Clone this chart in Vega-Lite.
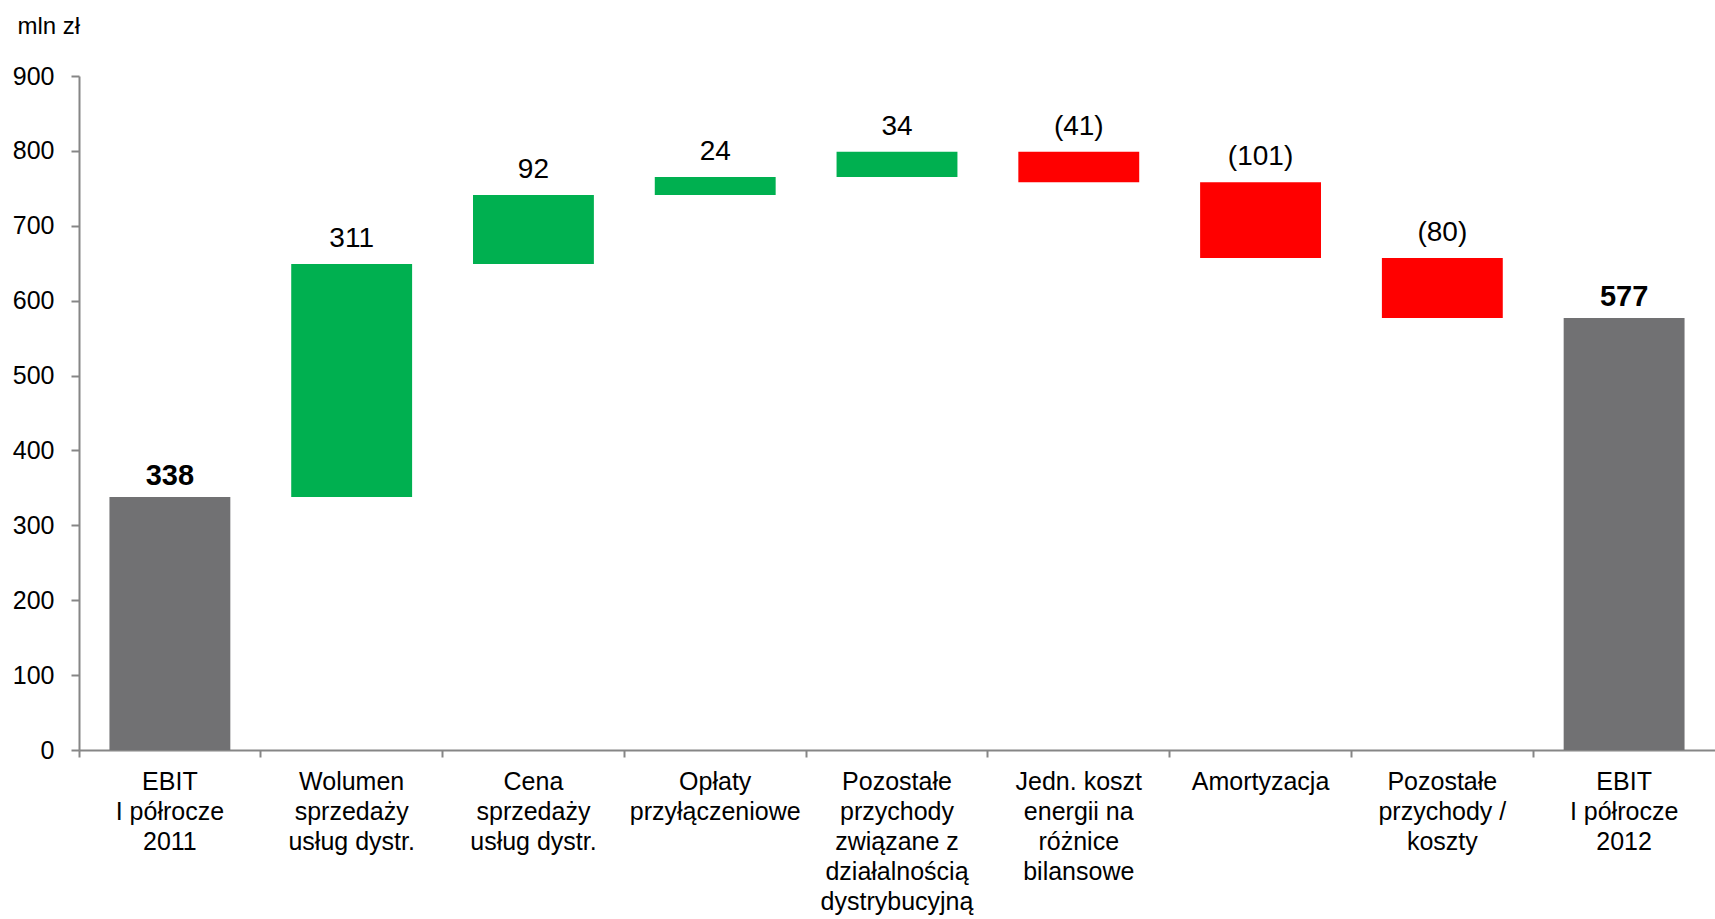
{
  "$schema": "https://vega.github.io/schema/vega-lite/v6.json",
  "autosize": {"type": "none"},
  "width": 1636,
  "height": 674,
  "padding": {"left": 79, "top": 76, "right": 0, "bottom": 169},
  "background": "white",
  "config": {
    "font": "Liberation Sans",
    "view": {"stroke": null}
  },
  "data": {
    "values": [
      {"category": "EBIT|I półrocze|2011", "low": 0, "high": 338, "label": "338", "type": "total"},
      {"category": "Wolumen|sprzedaży|usług dystr.", "low": 338, "high": 649, "label": "311", "type": "increase"},
      {"category": "Cena|sprzedaży|usług dystr.", "low": 649, "high": 741, "label": "92", "type": "increase"},
      {"category": "Opłaty|przyłączeniowe", "low": 741, "high": 765, "label": "24", "type": "increase"},
      {"category": "Pozostałe|przychody|związane z|działalnością|dystrybucyjną", "low": 765, "high": 799, "label": "34", "type": "increase"},
      {"category": "Jedn. koszt|energii na|różnice|bilansowe", "low": 758, "high": 799, "label": "(41)", "type": "decrease"},
      {"category": "Amortyzacja", "low": 657, "high": 758, "label": "(101)", "type": "decrease"},
      {"category": "Pozostałe|przychody /|koszty", "low": 577, "high": 657, "label": "(80)", "type": "decrease"},
      {"category": "EBIT|I półrocze|2012", "low": 0, "high": 577, "label": "577", "type": "total"}
    ]
  },
  "encoding": {
    "x": {
      "field": "category",
      "type": "nominal",
      "sort": null,
      "scale": {"paddingInner": 0, "paddingOuter": 0},
      "axis": {
        "title": null,
        "labelAngle": 0,
        "labelExpr": "split(datum.label, '|')",
        "labelFont": "Liberation Sans",
        "labelFontSize": 25,
        "labelLineHeight": 30,
        "labelColor": "#000000",
        "labelPadding": 12,
        "labelBaseline": "top",
        "labelLimit": 300,
        "bandPosition": 0,
        "domainColor": "#868686",
        "domainWidth": 2,
        "tickColor": "#868686",
        "tickWidth": 2,
        "tickSize": 7,
        "grid": false
      }
    }
  },
  "layer": [
    {
      "mark": {"type": "bar", "width": {"band": 0.665}},
      "encoding": {
        "y": {
          "field": "low",
          "type": "quantitative",
          "scale": {"domain": [0, 900], "nice": false},
          "axis": {
            "values": [0, 100, 200, 300, 400, 500, 600, 700, 800, 900],
            "title": "mln zł",
            "titleAngle": 0,
            "titleAlign": "left",
            "titleBaseline": "alphabetic",
            "titleX": -62,
            "titleY": -43,
            "titleFont": "Liberation Sans",
            "titleFontSize": 24,
            "titleFontWeight": "normal",
            "titleColor": "#000000",
            "labelFont": "Liberation Sans",
            "labelFontSize": 25,
            "labelColor": "#000000",
            "labelPadding": 17,
            "domainColor": "#868686",
            "domainWidth": 2,
            "tickColor": "#868686",
            "tickWidth": 2,
            "tickSize": 8,
            "grid": false
          }
        },
        "y2": {"field": "high"},
        "color": {
          "field": "type",
          "type": "nominal",
          "scale": {"domain": ["total", "increase", "decrease"], "range": ["#717173", "#00B050", "#FF0000"]},
          "legend": null
        }
      }
    },
    {
      "transform": [{"filter": "datum.type != 'total'"}],
      "mark": {"type": "text", "baseline": "alphabetic", "dy": -17, "fontSize": 28, "font": "Liberation Sans", "color": "#000000"},
      "encoding": {
        "y": {"field": "high", "type": "quantitative"},
        "text": {"field": "label"}
      }
    },
    {
      "transform": [{"filter": "datum.type == 'total'"}],
      "mark": {"type": "text", "baseline": "alphabetic", "dy": -12, "fontSize": 29, "fontWeight": "bold", "font": "Liberation Sans", "color": "#000000"},
      "encoding": {
        "y": {"field": "high", "type": "quantitative"},
        "text": {"field": "label"}
      }
    }
  ]
}
